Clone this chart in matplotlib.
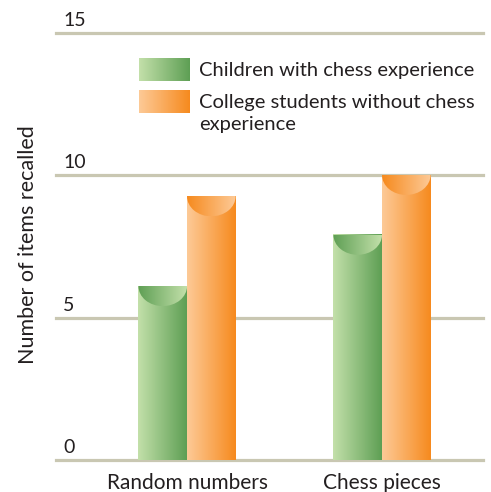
# Chess recall bar chart
import numpy as np
import matplotlib.pyplot as plt
from matplotlib.patches import Ellipse
from matplotlib.colors import LinearSegmentedColormap

categories = ["Random numbers", "Chess pieces"]
children = [6.1, 7.9]
college = [9.25, 10.0]
series_names = ["Children with chess experience",
                "College students without chess\nexperience"]
y_ticks = [0, 5, 10, 15]

green = ("#c3e0aa", "#5e9f54")
orange = ("#fdca97", "#f68a1e")
grid_col = "#c9c7b2"
text_col = "#231f20"

plt.rcParams['font.family'] = ['Lato', 'DejaVu Sans']

fig = plt.figure(figsize=(4.91, 4.92), dpi=100)
ax = fig.add_axes([56/491, 32/492, 427/491, 427.5/492])
ax.axis("off")

grad = np.linspace(0, 1, 256).reshape(1, -1)

def gradient_cmap(c0, c1):
    return LinearSegmentedColormap.from_list("g", [c0, c1])

def draw_bar(x0, w, h, cols):
    cm = gradient_cmap(*cols)
    ax.imshow(grad, cmap=cm, extent=[x0, x0 + w, 0, h], aspect="auto", zorder=3)
    # cylinder cap: half ellipse with reversed shading
    cap_h = 0.70
    ell = Ellipse((x0 + w/2, h), w, 2*cap_h, transform=ax.transData)
    im = ax.imshow(grad[:, ::-1], cmap=cm, extent=[x0, x0 + w, h - cap_h, h],
                   aspect="auto", zorder=4)
    im.set_clip_path(ell)

for yt in y_ticks:
    ax.axhline(yt, color=grid_col, lw=2.3, zorder=1, clip_on=False)
    ax.text(-0.635, yt + 0.14, str(yt), fontsize=14, color=text_col,
            ha="left", va="bottom")

w = 0.249
for i in range(len(categories)):
    draw_bar(i - w, w, children[i], green)
    draw_bar(i, w, college[i], orange)
    ax.text(i, -0.45, categories[i], fontsize=15, color=text_col,
            ha="center", va="top")

# legend
lx0, lx1 = -0.246, 0.015
for cols, yc in [(green, 13.68), (orange, 12.56)]:
    cm = gradient_cmap(*cols)
    ax.imshow(grad, cmap=cm, extent=[lx0, lx1, yc - 0.39, yc + 0.39],
              aspect="auto", zorder=3)
ax.text(0.062, 13.68, series_names[0], fontsize=14.5, color=text_col,
        ha="left", va="center")
ax.text(0.062, 12.84, series_names[1], fontsize=14.5, color=text_col,
        ha="left", va="top", linespacing=1.38)

ax.set_ylim(0, 15)
ax.set_xlim(-0.672, 1.518)

fig.text(28/491, 1 - 245/492, "Number of items recalled", rotation=90,
         fontsize=15.5, color=text_col, ha="center", va="center")

fig.savefig("out.png", dpi=100)
